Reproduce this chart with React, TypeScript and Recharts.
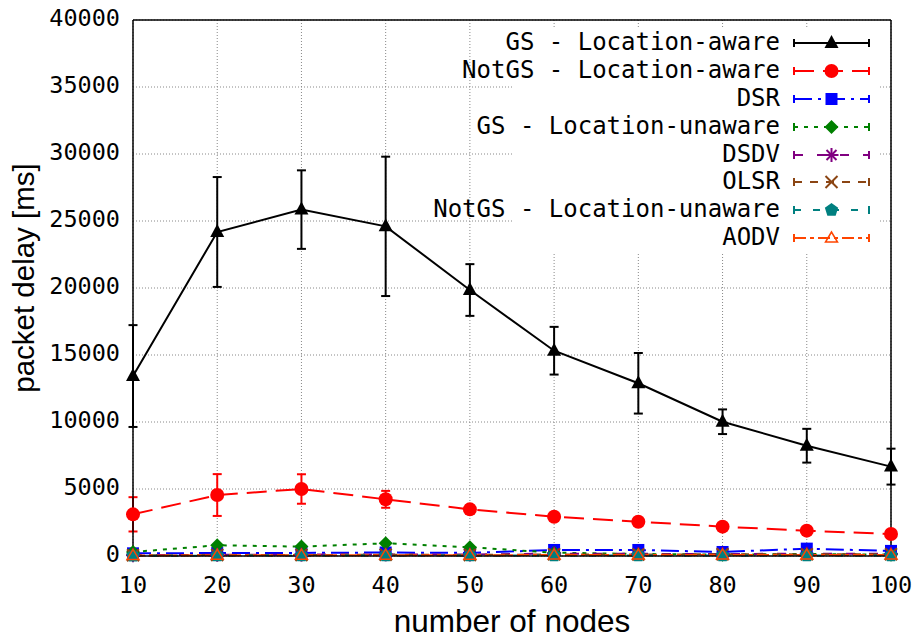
import { ComposedChart, Line, XAxis, YAxis, CartesianGrid, ErrorBar, Legend, Label } from 'recharts';

// number of nodes on the x axis
const nodes = [10, 20, 30, 40, 50, 60, 70, 80, 90, 100];

// packet delay [ms] per protocol
const gsAware = [13430, 24180, 25850, 24600, 19850, 15320, 12890, 10020, 8230, 6670];
const gsAwareErr = [3800, 4100, 2930, 5200, 1930, 1780, 2260, 920, 1260, 1340];
const notGsAware = [3110, 4550, 5000, 4230, 3480, 2930, 2560, 2190, 1890, 1640];
const notGsAwareErr = [1280, 1560, 1100, 630, 300, 250, 250, 200, 200, 200];
const dsr = [200, 220, 230, 260, 230, 450, 450, 300, 550, 380];
const gsUnaware = [300, 800, 700, 950, 650, 250, 150, 100, 150, 100];
const dsdv = [60, 90, 100, 120, 110, 180, 160, 150, 170, 160];
const olsr = [50, 70, 80, 90, 80, 120, 110, 130, 120, 130];
const notGsUnaware = [20, 30, 30, 40, 30, 40, 40, 40, 40, 40];
const aodv = [40, 50, 60, 60, 60, 70, 70, 80, 70, 80];

const xTicks = [10, 20, 30, 40, 50, 60, 70, 80, 90, 100];
const yTicks = [0, 5000, 10000, 15000, 20000, 25000, 30000, 35000, 40000];

const data = nodes.map((n, i) => ({
  nodes: n,
  gsAware: gsAware[i],
  gsAwareErr: gsAwareErr[i],
  notGsAware: notGsAware[i],
  notGsAwareErr: notGsAwareErr[i],
  dsr: dsr[i],
  gsUnaware: gsUnaware[i],
  dsdv: dsdv[i],
  olsr: olsr[i],
  notGsUnaware: notGsUnaware[i],
  aodv: aodv[i],
}));

const MONO = '"DejaVu Sans Mono", monospace';
const SANS = '"Liberation Sans", Arial, sans-serif';

type MarkerKind = 'triangle' | 'circle' | 'square' | 'diamond' | 'star' | 'cross' | 'pentagon' | 'openTriangle';

interface SeriesDef {
  key: string;
  name: string;
  color: string;
  dash?: string;
  marker: MarkerKind;
  err?: string;
}

const series: SeriesDef[] = [
  { key: 'gsAware', name: 'GS - Location-aware', color: '#000000', marker: 'triangle', err: 'gsAwareErr' },
  { key: 'notGsAware', name: 'NotGS - Location-aware', color: '#ff0000', dash: '20 9', marker: 'circle', err: 'notGsAwareErr' },
  { key: 'dsr', name: 'DSR', color: '#0000ff', dash: '18 6 3 6', marker: 'square' },
  { key: 'gsUnaware', name: 'GS - Location-unaware', color: '#008000', dash: '4 6', marker: 'diamond' },
  { key: 'dsdv', name: 'DSDV', color: '#800080', dash: '9 14', marker: 'star' },
  { key: 'olsr', name: 'OLSR', color: '#8b4513', dash: '8 8', marker: 'cross' },
  { key: 'notGsUnaware', name: 'NotGS - Location-unaware', color: '#008080', dash: '7 12', marker: 'pentagon' },
  { key: 'aodv', name: 'AODV', color: '#ff4500', dash: '12 4 4 4', marker: 'openTriangle' },
];

const Marker = ({ kind, cx, cy, color }: { kind: MarkerKind; cx: number; cy: number; color: string }) => {
  if (cx == null || cy == null) return null;
  switch (kind) {
    case 'triangle':
      return <polygon points={`${cx},${cy - 8} ${cx - 7},${cy + 5} ${cx + 7},${cy + 5}`} fill={color} />;
    case 'circle':
      return <circle cx={cx} cy={cy} r={7} fill={color} />;
    case 'square':
      return <rect x={cx - 6} y={cy - 6} width={12} height={12} fill={color} />;
    case 'diamond':
      return <polygon points={`${cx},${cy - 7} ${cx + 7},${cy} ${cx},${cy + 7} ${cx - 7},${cy}`} fill={color} />;
    case 'star':
      return (
        <g stroke={color} strokeWidth={2}>
          <line x1={cx - 7} y1={cy} x2={cx + 7} y2={cy} />
          <line x1={cx} y1={cy - 7} x2={cx} y2={cy + 7} />
          <line x1={cx - 5} y1={cy - 5} x2={cx + 5} y2={cy + 5} />
          <line x1={cx - 5} y1={cy + 5} x2={cx + 5} y2={cy - 5} />
        </g>
      );
    case 'cross':
      return (
        <g stroke={color} strokeWidth={2}>
          <line x1={cx - 6} y1={cy - 6} x2={cx + 6} y2={cy + 6} />
          <line x1={cx - 6} y1={cy + 6} x2={cx + 6} y2={cy - 6} />
        </g>
      );
    case 'pentagon': {
      const pts = [0, 1, 2, 3, 4]
        .map((k) => {
          const a = -Math.PI / 2 + (k * 2 * Math.PI) / 5;
          return `${cx + 7 * Math.cos(a)},${cy + 7 * Math.sin(a)}`;
        })
        .join(' ');
      return <polygon points={pts} fill={color} />;
    }
    case 'openTriangle':
      return (
        <polygon
          points={`${cx},${cy - 6} ${cx - 6},${cy + 4} ${cx + 6},${cy + 4}`}
          fill="none"
          stroke={color}
          strokeWidth={1.5}
        />
      );
  }
  return null;
};

const XTick = (props: any) => {
  const { x, y, payload } = props;
  return (
    <text x={x} y={y + 37} textAnchor="middle" fontFamily={MONO} fontSize={23.5} fill="#000">
      {payload.value}
    </text>
  );
};

const YTick = (props: any) => {
  const { x, y, payload } = props;
  return (
    <text x={x - 13} y={y + 6} textAnchor="end" fontFamily={MONO} fontSize={23.5} fill="#000">
      {payload.value}
    </text>
  );
};

const YTitle = (props: any) => {
  const vb = props.viewBox || { x: 0, y: 0, height: 0 };
  const cx = vb.x + 34;
  const cy = vb.y + vb.height / 2 - 10;
  return (
    <text x={cx} y={cy} transform={`rotate(-90 ${cx} ${cy})`} textAnchor="middle" fontFamily={SANS} fontSize={29.5} fill="#000">
      packet delay [ms]
    </text>
  );
};

const XTitle = (props: any) => {
  const vb = props.viewBox || { x: 0, y: 0, width: 0 };
  return (
    <text x={vb.x + vb.width / 2} y={vb.y + 76} textAnchor="middle" fontFamily={SANS} fontSize={31.5} fill="#000">
      number of nodes
    </text>
  );
};

// gnuplot-style key: white box, names right-aligned and allowed to spill out to the left
const renderLegend = () => (
  <div style={{ background: '#fff', width: 367 }}>
    {series.map((s) => (
      <div key={s.key} style={{ display: 'flex', alignItems: 'center', height: 27.9 }}>
        <div style={{ width: 267, flexShrink: 0, display: 'flex', justifyContent: 'flex-end' }}>
          <span
            style={{
              flexShrink: 0,
              fontFamily: MONO,
              fontSize: 24,
              lineHeight: '27.9px',
              whiteSpace: 'pre',
              color: '#000',
            }}
          >
            {s.name}
          </span>
        </div>
        <svg width={77} height={20} style={{ marginLeft: 13, display: 'block', flexShrink: 0 }}>
          <line x1={1} y1={10} x2={76} y2={10} stroke={s.color} strokeWidth={2} strokeDasharray={s.dash} />
          <line x1={1} y1={6} x2={1} y2={14} stroke={s.color} strokeWidth={2} />
          <line x1={76} y1={6} x2={76} y2={14} stroke={s.color} strokeWidth={2} />
          <Marker kind={s.marker} cx={38.5} cy={10} color={s.color} />
        </svg>
      </div>
    ))}
  </div>
);

export default function App() {
  return (
    <div style={{ position: 'absolute', left: 0, top: 0, background: '#fff' }}>
      <ComposedChart width={917} height={639} data={data} margin={{ top: 20, right: 26, left: 0, bottom: 0 }}>
        <CartesianGrid stroke="#888" strokeDasharray="1 2" />
        <XAxis
          dataKey="nodes"
          type="number"
          domain={[10, 100]}
          ticks={xTicks}
          interval={0}
          height={83}
          tickSize={0}
          tickMargin={0}
          tickLine={false}
          tick={XTick}
          axisLine={{ stroke: '#000', strokeWidth: 1.5 }}
        >
          <Label content={XTitle} />
        </XAxis>
        <XAxis
          xAxisId="bottomTicks"
          dataKey="nodes"
          type="number"
          domain={[10, 100]}
          ticks={xTicks}
          interval={0}
          orientation="bottom"
          mirror
          tick={false}
          tickSize={9}
          tickLine={{ stroke: '#000', strokeWidth: 1.5 }}
          axisLine={false}
        />
        <XAxis
          xAxisId="top"
          dataKey="nodes"
          type="number"
          domain={[10, 100]}
          ticks={xTicks}
          interval={0}
          orientation="top"
          mirror
          tick={false}
          tickSize={9}
          tickLine={{ stroke: '#000', strokeWidth: 1.5 }}
          axisLine={{ stroke: '#000', strokeWidth: 1.5 }}
        />
        <YAxis
          type="number"
          domain={[0, 40000]}
          ticks={yTicks}
          interval={0}
          width={133}
          tickSize={0}
          tickMargin={0}
          tickLine={false}
          tick={YTick}
          axisLine={{ stroke: '#000', strokeWidth: 1.5 }}
        >
          <Label content={YTitle} />
        </YAxis>
        <YAxis
          yAxisId="leftTicks"
          type="number"
          domain={[0, 40000]}
          ticks={yTicks}
          interval={0}
          orientation="left"
          mirror
          tick={false}
          tickSize={9}
          tickLine={{ stroke: '#000', strokeWidth: 1.5 }}
          axisLine={false}
        />
        <YAxis
          yAxisId="right"
          type="number"
          domain={[0, 40000]}
          ticks={yTicks}
          interval={0}
          orientation="right"
          mirror
          tick={false}
          tickSize={9}
          tickLine={{ stroke: '#000', strokeWidth: 1.5 }}
          axisLine={{ stroke: '#000', strokeWidth: 1.5 }}
        />
        <Legend
          content={renderLegend}
          layout="vertical"
          align="center"
          verticalAlign="middle"
          wrapperStyle={{ top: 29, left: 513, width: 367, height: 223 }}
        />
        {series.map((s) => (
          <Line
            key={s.key}
            dataKey={s.key}
            name={s.name}
            type="linear"
            stroke={s.color}
            strokeWidth={2}
            strokeDasharray={s.dash}
            isAnimationActive={false}
            activeDot={false}
            dot={(p: any) => <Marker key={`${s.key}-${p.index}`} kind={s.marker} cx={p.cx} cy={p.cy} color={s.color} />}
          >
            {s.err && (
              <ErrorBar
                dataKey={s.err}
                direction="y"
                width={4.5}
                strokeWidth={2}
                stroke={s.color}
                isAnimationActive={false}
              />
            )}
          </Line>
        ))}
      </ComposedChart>
    </div>
  );
}
